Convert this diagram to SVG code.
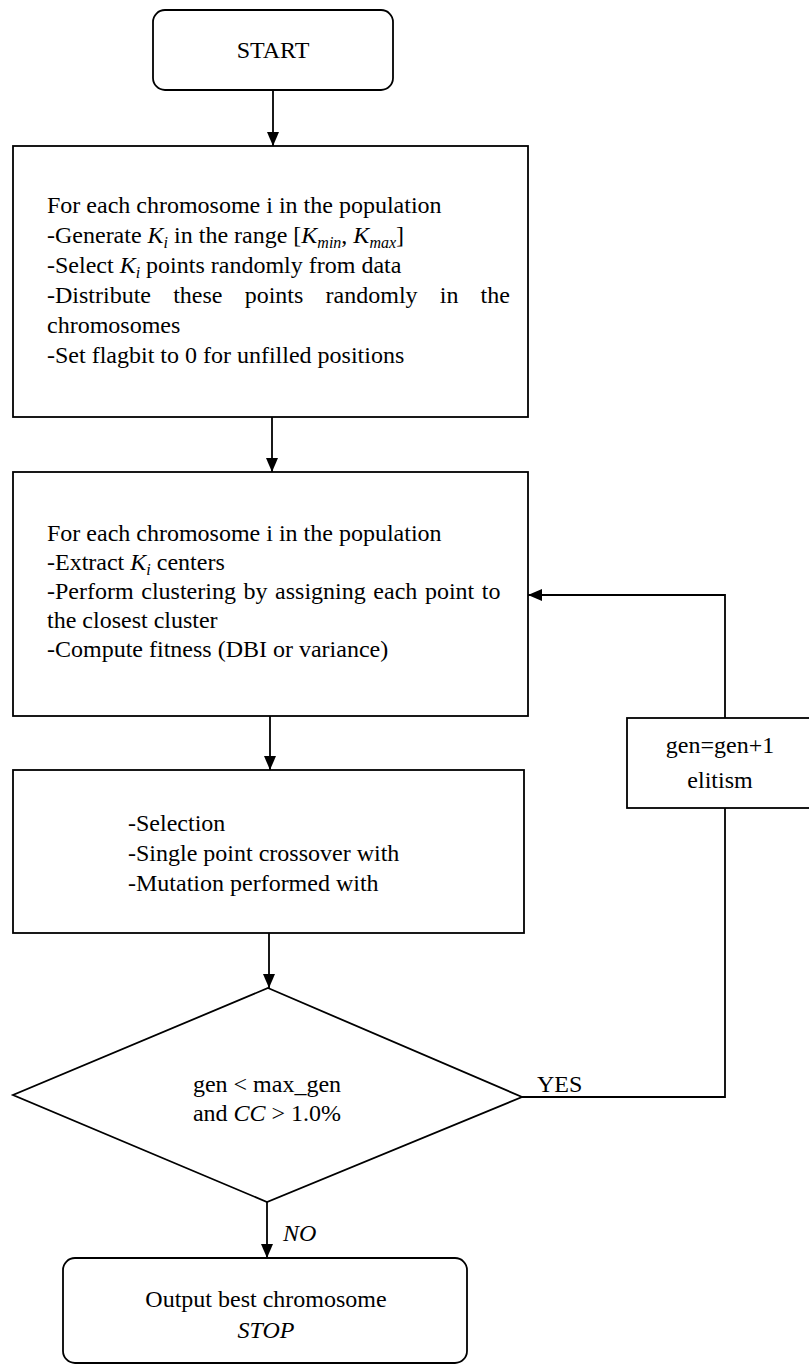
<svg xmlns="http://www.w3.org/2000/svg" width="809" height="1365" viewBox="0 0 809 1365">
<style>
.b{fill:#fff;stroke:#000;stroke-width:1.8}
.c{fill:none;stroke:#000;stroke-width:1.8}
text{font-family:"Liberation Serif","Times New Roman",serif;font-size:24px;fill:#000}
.s{font-size:16px;font-style:italic}
.i{font-style:italic}
.m{text-anchor:middle}
</style>
<defs>
<marker id="ah" markerUnits="userSpaceOnUse" markerWidth="14" markerHeight="12" refX="14" refY="6" orient="auto"><path d="M0,0 L14,6 L0,12 z" fill="#000"/></marker>
</defs>
<rect width="809" height="1365" fill="#fff"/>
<g id="connectors">
<line class="c" x1="273" y1="90" x2="273" y2="146" marker-end="url(#ah)"/>
<line class="c" x1="272" y1="417" x2="272" y2="472" marker-end="url(#ah)"/>
<line class="c" x1="270" y1="716" x2="270" y2="770" marker-end="url(#ah)"/>
<line class="c" x1="269" y1="933" x2="269" y2="988" marker-end="url(#ah)"/>
<line class="c" x1="267" y1="1202" x2="267" y2="1258" marker-end="url(#ah)"/>
<polyline class="c" points="522,1097 725,1097 725,808"/>
<polyline class="c" points="725,718 725,595 528,595" marker-end="url(#ah)"/>
<text x="537" y="1092">YES</text>
<text x="283" y="1241" class="i">NO</text>
</g>
<g id="start">
<rect class="b" x="153" y="10" width="240" height="80" rx="12"/>
<text class="m" x="273" y="58">START</text>
</g>
<g id="init">
<rect class="b" x="13" y="146" width="515" height="271"/>
<text x="47" y="213">For each chromosome i in the population</text>
<text x="47" y="243">-Generate <tspan class="i">K</tspan><tspan class="s" dy="5">i</tspan><tspan dy="-5"> in the range [</tspan><tspan class="i">K</tspan><tspan class="s" dy="5">min</tspan><tspan dy="-5">, </tspan><tspan class="i">K</tspan><tspan class="s" dy="5">max</tspan><tspan dy="-5">]</tspan></text>
<text x="47" y="273">-Select <tspan class="i">K</tspan><tspan class="s" dy="5">i</tspan><tspan dy="-5"> points randomly from data</tspan></text>
<text x="47" y="303" word-spacing="16.2">-Distribute these points randomly in the</text>
<text x="47" y="333">chromosomes</text>
<text x="47" y="363">-Set flagbit to 0 for unfilled positions</text>
</g>
<g id="fitness">
<rect class="b" x="13" y="472" width="515" height="244"/>
<text x="47" y="541">For each chromosome i in the population</text>
<text x="47" y="570">-Extract <tspan class="i">K</tspan><tspan class="s" dy="5">i</tspan><tspan dy="-5"> centers</tspan></text>
<text x="47" y="599" word-spacing="1.6">-Perform clustering by assigning each point to</text>
<text x="47" y="628">the closest cluster</text>
<text x="47" y="657">-Compute fitness (DBI or variance)</text>
</g>
<g id="genetic">
<rect class="b" x="13" y="770" width="511" height="163"/>
<text x="128" y="831">-Selection</text>
<text x="128" y="861">-Single point crossover with</text>
<text x="128" y="891">-Mutation performed with</text>
</g>
<g id="decision">
<polygon class="b" points="268,988 522,1097 267,1202 13,1095"/>
<text class="m" x="267" y="1092">gen &lt; max_gen</text>
<text class="m" x="267" y="1121">and <tspan class="i">CC</tspan> &gt; 1.0%</text>
</g>
<g id="gen">
<rect class="b" x="627" y="718" width="192" height="90"/>
<text class="m" x="720" y="753">gen=gen+1</text>
<text class="m" x="720" y="788">elitism</text>
</g>
<g id="output">
<rect class="b" x="63" y="1258" width="404" height="105" rx="12"/>
<text class="m" x="266" y="1307">Output best chromosome</text>
<text class="m" x="266" y="1338" font-style="italic">STOP</text>
</g>
</svg>
